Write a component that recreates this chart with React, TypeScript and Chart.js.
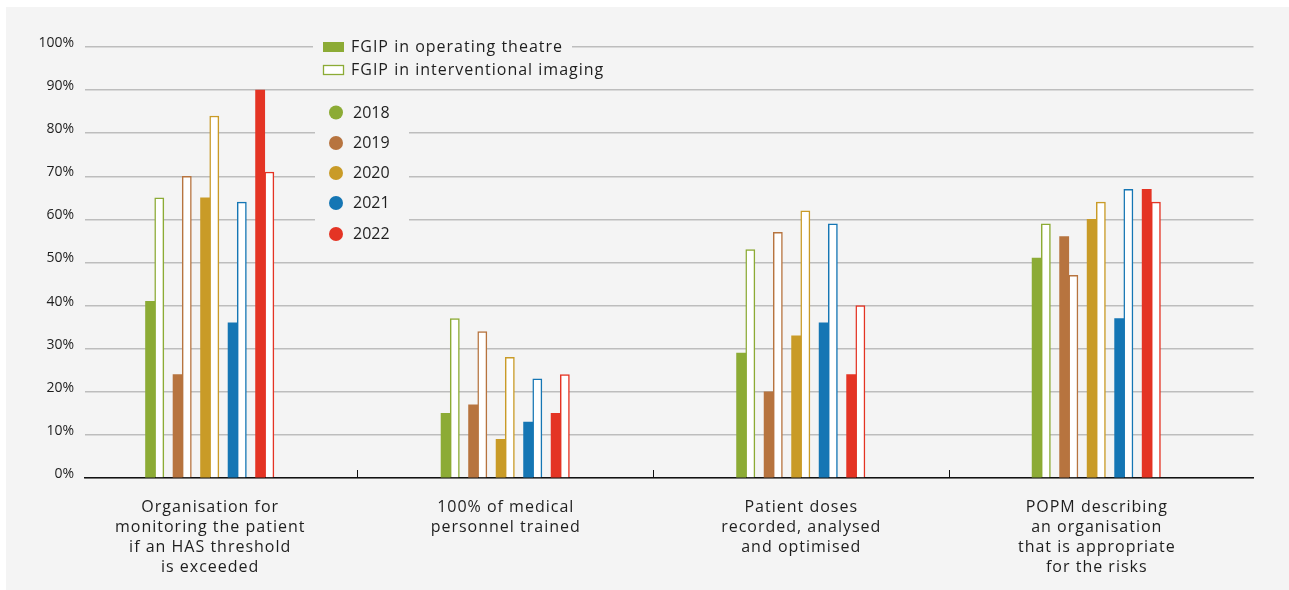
import React, { useEffect, useRef } from "react";
import { Chart, registerables } from "chart.js";

Chart.register(...registerables);

const categories: string[][] = [
  ["Organisation for", "monitoring the patient", "if an HAS threshold", "is exceeded"],
  ["100% of medical", "personnel trained"],
  ["Patient doses", "recorded, analysed", "and optimised"],
  ["POPM describing", "an organisation", "that is appropriate", "for the risks"],
];

const years = ["2018", "2019", "2020", "2021", "2022"];
const yearColors = ["#8cab35", "#b7743f", "#c99b27", "#1576b4", "#e43424"];

// FGIP in operating theatre (filled)
const theatre2018 = [41, 15, 29, 51];
const theatre2019 = [24, 17, 20, 56];
const theatre2020 = [65, 9, 33, 60];
const theatre2021 = [36, 13, 36, 37];
const theatre2022 = [90, 15, 24, 67];

// FGIP in interventional imaging (hollow)
const imaging2018 = [65, 37, 53, 59];
const imaging2019 = [70, 34, 57, 47];
const imaging2020 = [84, 28, 62, 64];
const imaging2021 = [64, 23, 59, 67];
const imaging2022 = [71, 24, 40, 64];

const theatreSeries = [theatre2018, theatre2019, theatre2020, theatre2021, theatre2022];
const imagingSeries = [imaging2018, imaging2019, imaging2020, imaging2021, imaging2022];

const yTicks = [0, 10, 20, 30, 40, 50, 60, 70, 80, 90, 100];
const legendSeries = ["FGIP in operating theatre", "FGIP in interventional imaging"];

const PANEL_BG = "#f4f4f4";
const TEXT = "#1e1e1e";
const FONT = "'Open Sans', 'Noto Sans', sans-serif";

const W = 1289;
const H = 590;

export default function App() {
  const ref = useRef<HTMLCanvasElement | null>(null);

  useEffect(() => {
    document.body.style.margin = "0";
    const canvas = ref.current;
    if (!canvas) return;

    const toPoints = (arr: number[]) => arr.map((v, i) => ({ x: i, y: v }));
    const datasets: any[] = [];
    years.forEach((yr, k) => {
      datasets.push({
        label: "theatre " + yr,
        data: toPoints(theatreSeries[k]),
        backgroundColor: yearColors[k],
        borderWidth: 0,
      });
      datasets.push({
        label: "imaging " + yr,
        data: toPoints(imagingSeries[k]),
        backgroundColor: "#ffffff",
        borderColor: yearColors[k],
        borderWidth: 1.5,
      });
      if (k < years.length - 1) {
        datasets.push({ label: "", data: [], backgroundColor: "transparent" });
      }
    });

    const dividerPlugin = {
      id: "dividers",
      afterDatasetsDraw(chart: any) {
        const { ctx, chartArea, scales } = chart;
        ctx.save();
        ctx.strokeStyle = "#111";
        ctx.lineWidth = 1;
        for (let i = 0; i < categories.length - 1; i++) {
          const x = Math.round(scales.x.getPixelForValue(i + 0.5)) + 0.5;
          ctx.beginPath();
          ctx.moveTo(x, chartArea.bottom);
          ctx.lineTo(x, chartArea.bottom - 8);
          ctx.stroke();
        }
        ctx.restore();
      },
    };

    const xLabelPlugin = {
      id: "xLabels",
      afterDraw(chart: any) {
        const { ctx, chartArea, scales } = chart;
        ctx.save();
        ctx.font = `16px ${FONT}`;
        (ctx as any).letterSpacing = "1px";
        ctx.fillStyle = TEXT;
        ctx.textAlign = "center";
        ctx.textBaseline = "middle";
        categories.forEach((lines, i) => {
          const x = scales.x.getPixelForValue(i) + 0.5;
          lines.forEach((ln, j) => {
            ctx.fillText(ln, x, chartArea.bottom + 29 + j * 20);
          });
        });
        ctx.restore();
      },
    };

    const legendPlugin = {
      id: "customLegend",
      afterDraw(chart: any) {
        const ctx = chart.ctx;
        ctx.save();
        ctx.fillStyle = PANEL_BG;
        ctx.fillRect(313, 37, 259, 20);
        ctx.fillRect(315, 98, 94, 150);

        ctx.textBaseline = "middle";
        ctx.textAlign = "left";

        // series keys
        ctx.fillStyle = yearColors[0];
        ctx.fillRect(323, 42, 21, 10);
        ctx.fillStyle = "#ffffff";
        ctx.fillRect(323, 65, 21, 9.5);
        ctx.strokeStyle = yearColors[0];
        ctx.lineWidth = 1.3;
        ctx.strokeRect(323.5, 65.5, 20, 9);
        ctx.fillStyle = TEXT;
        ctx.font = `16px ${FONT}`;
        (ctx as any).letterSpacing = "1px";
        ctx.fillText(legendSeries[0], 351, 47);
        ctx.fillText(legendSeries[1], 351, 70);
        (ctx as any).letterSpacing = "0px";

        // years
        const ys = [112.5, 143, 173, 203, 234];
        years.forEach((yr, k) => {
          ctx.fillStyle = yearColors[k];
          ctx.beginPath();
          ctx.arc(336, ys[k], 7, 0, Math.PI * 2);
          ctx.fill();
          ctx.fillStyle = TEXT;
          ctx.fillText(yr, 353, ys[k] + 0.5);
        });
        ctx.restore();
      },
    };

    const chart = new Chart(canvas, {
      type: "bar",
      data: { datasets },
      plugins: [dividerPlugin, xLabelPlugin, legendPlugin],
      options: {
        animation: false,
        responsive: false,
        events: [],
        layout: { padding: { top: 47, right: 35.5, left: 0, bottom: 0 } },
        datasets: {
          bar: {
            barThickness: 9.17,
            borderSkipped: "start",
            grouped: true,
          },
        },
        plugins: {
          legend: { display: false },
          tooltip: { enabled: false },
          title: { display: false },
        },
        scales: {
          x: {
            type: "linear",
            offset: false,
            min: -0.422,
            max: 3.532,
            afterBuildTicks: (scale: any) => {
              scale.ticks = categories.map((_, i) => ({ value: i }));
            },
            afterFit: (scale: any) => {
              scale.height = H - 478;
            },
            grid: { display: false, drawTicks: false, offset: false },
            border: { display: true, color: "#111", width: 1.5 },
            ticks: { display: false },
          },
          y: {
            min: 0,
            max: 100,
            afterBuildTicks: (scale: any) => {
              scale.ticks = yTicks.map((v) => ({ value: v }));
            },
            afterFit: (scale: any) => {
              scale.width = 85;
            },
            grid: { color: "#bdbdbd", lineWidth: 1.5, drawTicks: false },
            border: { display: false },
            ticks: {
              padding: 11,
              labelOffset: -4,
              color: TEXT,
              font: { family: FONT, size: 14 },
              callback: (v: any) => v + "%",
            },
          },
        },
      } as any,
    });

    return () => chart.destroy();
  }, []);

  return (
    <div style={{ position: "relative", width: W, height: H, background: "#ffffff", overflow: "hidden" }}>
      <div
        style={{
          position: "absolute",
          left: 6,
          top: 7,
          width: W - 6,
          height: H - 7,
          background: PANEL_BG,
        }}
      />
      <canvas
        ref={ref}
        width={W}
        height={H}
        style={{ position: "absolute", left: 0, top: 0, width: W, height: H, display: "block" }}
      />
    </div>
  );
}
